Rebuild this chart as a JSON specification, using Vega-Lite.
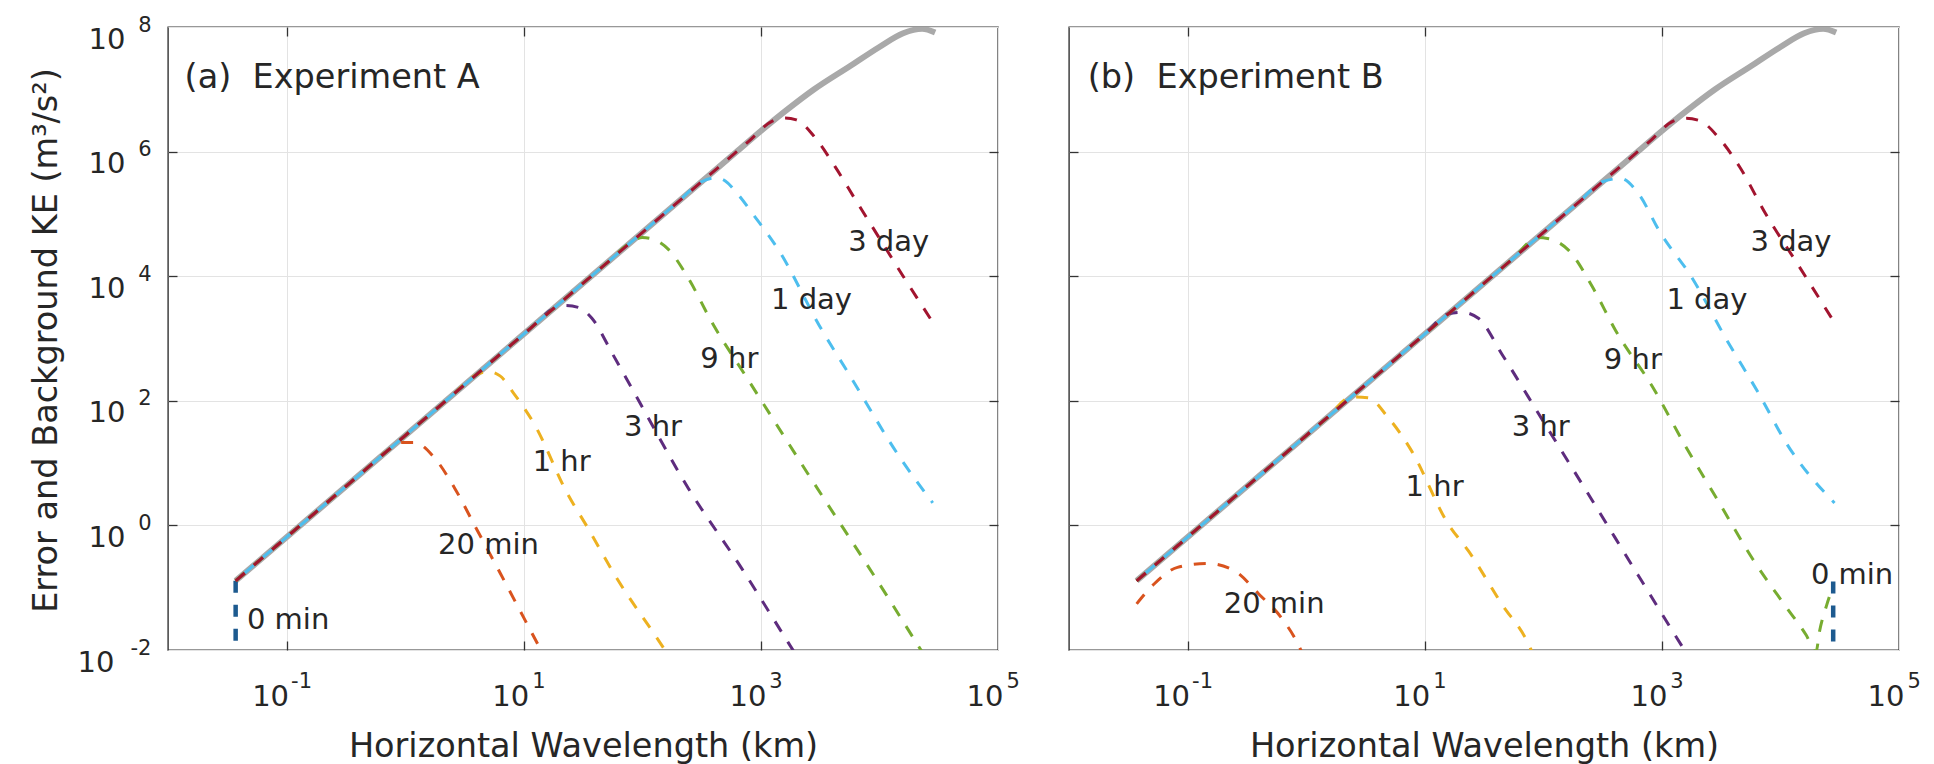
{
"$schema": "https://vega.github.io/schema/vega-lite/v6.json",
"background": "white",
"padding": {"left": 28, "top": 13, "right": 0, "bottom": 0},
"bounds": "flush",
"spacing": 71,
"config": {
  "view": {"stroke": "#333333", "strokeWidth": 1.4},
  "axis": {"labelFont": "DejaVu Sans", "titleFont": "DejaVu Sans", "labelColor": "#262626", "titleColor": "#262626", "titleFontWeight": "normal"},
  "text": {"font": "DejaVu Sans"}
},
"datasets": {
  "bg": [
    {"x": 0.0372, "y": 0.129}, {"x": 631, "y": 1012000}, {"x": 1000, "y": 2138000}, {"x": 1585, "y": 4365000}, {"x": 2818, "y": 10000000},
    {"x": 5623, "y": 23440000}, {"x": 10000, "y": 47860000}, {"x": 15850, "y": 79430000}, {"x": 22910, "y": 93330000}, {"x": 29510, "y": 81280000}
  ],
  "a": [
    {"s": "0 min", "x": 0.0372, "y": 0.129}, {"s": "0 min", "x": 0.0372, "y": 0.00794},
    {"s": "20 min", "x": 0.0372, "y": 0.129}, {"s": "20 min", "x": 0.4467, "y": 7.42}, {"s": "20 min", "x": 0.708, "y": 15.74}, {"s": "20 min", "x": 0.933, "y": 21.38}, {"s": "20 min", "x": 1.202, "y": 21.38}, {"s": "20 min", "x": 1.758, "y": 12.3}, {"s": "20 min", "x": 2.594, "y": 4.074}, {"s": "20 min", "x": 3.981, "y": 0.891}, {"s": "20 min", "x": 6.31, "y": 0.1738}, {"s": "20 min", "x": 10, "y": 0.0331}, {"s": "20 min", "x": 14.13, "y": 0.00955},
    {"s": "1 hr", "x": 0.0372, "y": 0.129}, {"s": "1 hr", "x": 2.512, "y": 123.9}, {"s": "1 hr", "x": 3.981, "y": 262.4}, {"s": "1 hr", "x": 5.012, "y": 295.1}, {"s": "1 hr", "x": 6.31, "y": 251.2}, {"s": "1 hr", "x": 8.318, "y": 128.5}, {"s": "1 hr", "x": 12.27, "y": 42.36}, {"s": "1 hr", "x": 23.44, "y": 3.192}, {"s": "1 hr", "x": 34.51, "y": 0.929}, {"s": "1 hr", "x": 57.94, "y": 0.166}, {"s": "1 hr", "x": 154.9, "y": 0.01}, {"s": "1 hr", "x": 166, "y": 0.00813},
    {"s": "3 hr", "x": 0.0372, "y": 0.129}, {"s": "3 hr", "x": 11.22, "y": 1421}, {"s": "3 hr", "x": 17.78, "y": 3006}, {"s": "3 hr", "x": 22.39, "y": 3388}, {"s": "3 hr", "x": 28.84, "y": 3162}, {"s": "3 hr", "x": 37.58, "y": 2118}, {"s": "3 hr", "x": 56.23, "y": 562.3}, {"s": "3 hr", "x": 87.1, "y": 127.4}, {"s": "3 hr", "x": 244.9, "y": 3.917}, {"s": "3 hr", "x": 687.1, "y": 0.206}, {"s": "3 hr", "x": 1698, "y": 0.01324}, {"s": "3 hr", "x": 1995, "y": 0.00813},
    {"s": "9 hr", "x": 0.0372, "y": 0.129}, {"s": "9 hr", "x": 50.12, "y": 16290}, {"s": "9 hr", "x": 79.43, "y": 34510}, {"s": "9 hr", "x": 100, "y": 41690}, {"s": "9 hr", "x": 120.2, "y": 39810}, {"s": "9 hr", "x": 166, "y": 26920}, {"s": "9 hr", "x": 244.9, "y": 9226}, {"s": "9 hr", "x": 384.6, "y": 1849}, {"s": "9 hr", "x": 781.6, "y": 217.3}, {"s": "9 hr", "x": 2500, "y": 6.699}, {"s": "9 hr", "x": 11750, "y": 0.0708}, {"s": "9 hr", "x": 22390, "y": 0.01}, {"s": "9 hr", "x": 23990, "y": 0.00813},
    {"s": "1 day", "x": 0.0372, "y": 0.129}, {"s": "1 day", "x": 199.5, "y": 154900}, {"s": "1 day", "x": 316.2, "y": 328100}, {"s": "1 day", "x": 416.9, "y": 380200}, {"s": "1 day", "x": 501.2, "y": 338800}, {"s": "1 day", "x": 631, "y": 213800}, {"s": "1 day", "x": 891.3, "y": 89740}, {"s": "1 day", "x": 1400, "y": 26920}, {"s": "1 day", "x": 3236, "y": 1416}, {"s": "1 day", "x": 5433, "y": 283.8}, {"s": "1 day", "x": 15280, "y": 11.43}, {"s": "1 day", "x": 28180, "y": 2.291},
    {"s": "3 day", "x": 0.0372, "y": 0.129}, {"s": "3 day", "x": 794.3, "y": 1472000}, {"s": "3 day", "x": 1259, "y": 3119000}, {"s": "3 day", "x": 1585, "y": 3467000}, {"s": "3 day", "x": 1995, "y": 3236000}, {"s": "3 day", "x": 2844, "y": 1710000}, {"s": "3 day", "x": 4198, "y": 584800}, {"s": "3 day", "x": 6310, "y": 166000}, {"s": "3 day", "x": 10000, "y": 40740}, {"s": "3 day", "x": 15850, "y": 10000}, {"s": "3 day", "x": 28180, "y": 1820}
  ],
  "b": [
    {"s": "0 min", "x": 27860, "y": 0.1259}, {"s": "0 min", "x": 27860, "y": 0.00794},
    {"s": "20 min", "x": 0.0372, "y": 0.055}, {"s": "20 min", "x": 0.0522, "y": 0.1148}, {"s": "20 min", "x": 0.0822, "y": 0.2118}, {"s": "20 min", "x": 0.1476, "y": 0.2455}, {"s": "20 min", "x": 0.2483, "y": 0.1875}, {"s": "20 min", "x": 0.3981, "y": 0.0794}, {"s": "20 min", "x": 0.6152, "y": 0.03334}, {"s": "20 min", "x": 0.8511, "y": 0.01259}, {"s": "20 min", "x": 0.912, "y": 0.00955},
    {"s": "1 hr", "x": 0.0372, "y": 0.129}, {"s": "1 hr", "x": 1.514, "y": 54.2}, {"s": "1 hr", "x": 2.399, "y": 114.8}, {"s": "1 hr", "x": 3.311, "y": 112.2}, {"s": "1 hr", "x": 4.909, "y": 54.08}, {"s": "1 hr", "x": 7.727, "y": 15.85}, {"s": "1 hr", "x": 15.78, "y": 1.052}, {"s": "1 hr", "x": 23.28, "y": 0.3926}, {"s": "1 hr", "x": 44.57, "y": 0.05495}, {"s": "1 hr", "x": 74.82, "y": 0.01259}, {"s": "1 hr", "x": 81.28, "y": 0.00891},
    {"s": "3 hr", "x": 0.0372, "y": 0.129}, {"s": "3 hr", "x": 10, "y": 1178}, {"s": "3 hr", "x": 15.85, "y": 2495}, {"s": "3 hr", "x": 20.8, "y": 2630}, {"s": "3 hr", "x": 28.58, "y": 2089}, {"s": "3 hr", "x": 45.08, "y": 549.5}, {"s": "3 hr", "x": 100, "y": 46.77}, {"s": "3 hr", "x": 251.2, "y": 2.754}, {"s": "3 hr", "x": 631, "y": 0.1585}, {"s": "3 hr", "x": 1549, "y": 0.01}, {"s": "3 hr", "x": 1660, "y": 0.00813},
    {"s": "9 hr", "x": 0.0372, "y": 0.129}, {"s": "9 hr", "x": 56.23, "y": 19660}, {"s": "9 hr", "x": 89.13, "y": 41690}, {"s": "9 hr", "x": 111.7, "y": 39810}, {"s": "9 hr", "x": 164.8, "y": 25700}, {"s": "9 hr", "x": 259.4, "y": 6761}, {"s": "9 hr", "x": 408.3, "y": 1334}, {"s": "9 hr", "x": 833.7, "y": 167.9}, {"s": "9 hr", "x": 1596, "y": 18.2}, {"s": "9 hr", "x": 3055, "y": 2.291}, {"s": "9 hr", "x": 5834, "y": 0.2884}, {"s": "9 hr", "x": 11170, "y": 0.04898}, {"s": "9 hr", "x": 16480, "y": 0.01738}, {"s": "9 hr", "x": 19950, "y": 0.00933}, {"s": "9 hr", "x": 21380, "y": 0.01995}, {"s": "9 hr", "x": 24550, "y": 0.05248}, {"s": "9 hr", "x": 27540, "y": 0.1},
    {"s": "1 day", "x": 0.0372, "y": 0.129}, {"s": "1 day", "x": 199.5, "y": 154900}, {"s": "1 day", "x": 316.2, "y": 328100}, {"s": "1 day", "x": 450.8, "y": 370700}, {"s": "1 day", "x": 642.7, "y": 204200}, {"s": "1 day", "x": 948.4, "y": 53700}, {"s": "1 day", "x": 1816, "y": 9120}, {"s": "1 day", "x": 3467, "y": 1000}, {"s": "1 day", "x": 6637, "y": 125.9}, {"s": "1 day", "x": 11170, "y": 21.13}, {"s": "1 day", "x": 28580, "y": 2.291},
    {"s": "3 day", "x": 0.0372, "y": 0.129}, {"s": "3 day", "x": 794.3, "y": 1472000}, {"s": "3 day", "x": 1259, "y": 3119000}, {"s": "3 day", "x": 1596, "y": 3420000}, {"s": "3 day", "x": 2065, "y": 3162000}, {"s": "3 day", "x": 3055, "y": 1622000}, {"s": "3 day", "x": 4508, "y": 575400}, {"s": "3 day", "x": 7568, "y": 97720}, {"s": "3 day", "x": 14450, "y": 14130}, {"s": "3 day", "x": 28580, "y": 1795}
  ],
  "la": [
    {"t": "3 day", "x": 11970, "y": 25470}, {"t": "1 day", "x": 2673, "y": 2951}, {"t": "9 hr", "x": 542, "y": 338.8},
    {"t": "3 hr", "x": 123, "y": 27.54}, {"t": "1 hr", "x": 20.89, "y": 7.586}, {"t": "20 min", "x": 5.047, "y": 0.3467}, {"t": "0 min", "x": 0.103, "y": 0.02198}
  ],
  "lb": [
    {"t": "3 day", "x": 12270, "y": 25470}, {"t": "1 day", "x": 2399, "y": 2951}, {"t": "9 hr", "x": 568.9, "y": 323.6},
    {"t": "3 hr", "x": 95.28, "y": 27.54}, {"t": "1 hr", "x": 12.11, "y": 3.0}, {"t": "20 min", "x": 0.537, "y": 0.0398}, {"t": "0 min", "x": 40180, "y": 0.1148}
  ],
  "ta": [{"t": "(a)\u00a0\u00a0Experiment A", "x": 0.0138, "y": 10600000}],
  "tb": [{"t": "(b)\u00a0\u00a0Experiment B", "x": 0.0144, "y": 10600000}]
},
"hconcat": [
{
  "width": 830, "height": 623,
  "resolve": {"axis": {"x": "independent", "y": "independent"}},
  "layer": [
    {"data": {"name": "bg"},
     "mark": {"type": "line", "color": "#a9a9a9", "strokeWidth": 6, "clip": true, "interpolate": "monotone"},
     "encoding": {
       "x": {"field": "x", "type": "quantitative", "scale": {"type": "log", "domain": [0.01, 100000], "nice": false},
             "axis": {"orient": "bottom", "values": [0.1, 10, 1000, 100000], "labelExpr": "'10'", "ticks": false, "domain": false, "grid": true, "gridColor": "#e3e3e3", "gridWidth": 1,
                      "labelFontSize": 29, "labelAlign": "right", "labelBaseline": "middle", "labelPadding": 46,
                      "labelOffset": {"condition": {"test": "datum.value < 1", "value": 2}, "value": 5},
                      "labelFlush": false, "labelOverlap": false, "labelBound": false,
                      "title": "Horizontal Wavelength (km)", "titleFontSize": 33.5, "titleBaseline": "alphabetic", "titleY": 106}},
       "y": {"field": "y", "type": "quantitative", "scale": {"type": "log", "domain": [0.01, 100000000], "nice": false},
             "axis": {"orient": "left", "values": [0.01, 1, 100, 10000, 1000000, 100000000], "labelExpr": "'10'", "ticks": false, "domain": false, "grid": true, "gridColor": "#e3e3e3", "gridWidth": 1,
                      "labelFontSize": 29, "labelAlign": "right", "labelBaseline": "middle",
                      "labelPadding": {"condition": {"test": "datum.value < 0.1", "value": 54}, "value": 43},
                      "labelOffset": 12, "labelFlush": false, "labelOverlap": false, "labelBound": false,
                      "title": "Error and Background KE (m³/s²)", "titleFontSize": 33.5, "titleBaseline": "middle", "titleX": -122, "titleY": 313}}
     }},
    {"data": {"name": "a"},
     "transform": [{"filter": "datum.s !== '1 day' && datum.s !== '3 day'"}],
     "mark": {"type": "line", "strokeDash": [12, 12], "clip": true, "interpolate": "monotone"},
     "encoding": {
       "x": {"field": "x", "type": "quantitative", "scale": {"type": "log", "domain": [0.01, 100000], "nice": false},
             "axis": {"orient": "bottom", "values": [0.1, 10, 1000, 100000], "labelExpr": "'' + round(log(datum.value)/LN10)", "ticks": false, "domain": false, "grid": false,
                      "labelFontSize": 21, "labelAlign": "left", "labelBaseline": "middle", "labelPadding": 31,
                      "labelOffset": {"condition": {"test": "datum.value < 1", "value": 4}, "value": 8},
                      "labelFlush": false, "labelOverlap": false, "labelBound": false, "title": null}},
       "y": {"field": "y", "type": "quantitative", "scale": {"type": "log", "domain": [0.01, 100000000], "nice": false},
             "axis": {"orient": "left", "values": [0.01, 1, 100, 10000, 1000000, 100000000], "labelExpr": "'' + round(log(datum.value)/LN10)", "ticks": false, "domain": false, "grid": false,
                      "labelFontSize": 21, "labelAlign": "right", "labelBaseline": "middle", "labelPadding": 17, "labelOffset": -2,
                      "labelFlush": false, "labelOverlap": false, "labelBound": false, "title": null}},
       "color": {"field": "s", "type": "nominal", "legend": null,
                 "scale": {"domain": ["0 min", "20 min", "1 hr", "3 hr", "9 hr"], "range": ["#1d5a8f", "#d9531e", "#edb120", "#5e2c7e", "#77ac30"]}},
       "strokeWidth": {"condition": {"test": "datum.s === '0 min'", "value": 4.5}, "value": 3}
     }},
    {"data": {"name": "a"},
     "transform": [{"filter": "datum.s === '1 day'"}],
     "mark": {"type": "line", "color": "#4dbeee", "strokeWidth": 3, "strokeDash": [12, 12], "strokeDashOffset": 12, "clip": true, "interpolate": "monotone"},
     "encoding": {
       "x": {"field": "x", "type": "quantitative", "scale": {"type": "log", "domain": [0.01, 100000], "nice": false}, "axis": null},
       "y": {"field": "y", "type": "quantitative", "scale": {"type": "log", "domain": [0.01, 100000000], "nice": false}, "axis": null}
     }},
    {"data": {"name": "a"},
     "transform": [{"filter": "datum.s === '3 day'"}],
     "mark": {"type": "line", "color": "#a2142f", "strokeWidth": 3, "strokeDash": [12, 12], "clip": true, "interpolate": "monotone"},
     "encoding": {
       "x": {"field": "x", "type": "quantitative", "scale": {"type": "log", "domain": [0.01, 100000], "nice": false}, "axis": null},
       "y": {"field": "y", "type": "quantitative", "scale": {"type": "log", "domain": [0.01, 100000000], "nice": false}, "axis": null}
     }},
    {"data": {"name": "la"},
     "mark": {"type": "text", "fontSize": 29, "font": "DejaVu Sans", "color": "#262626", "align": "center", "baseline": "alphabetic"},
     "encoding": {
       "x": {"field": "x", "type": "quantitative", "scale": {"type": "log", "domain": [0.01, 100000], "nice": false},
             "axis": {"orient": "bottom", "values": [0.1, 10, 1000], "labels": false, "ticks": true, "tickSize": -9, "tickColor": "#333333", "tickWidth": 1.3, "domain": false, "grid": false, "title": null}},
       "y": {"field": "y", "type": "quantitative", "scale": {"type": "log", "domain": [0.01, 100000000], "nice": false},
             "axis": {"orient": "left", "values": [1, 100, 10000, 1000000], "labels": false, "ticks": true, "tickSize": -9, "tickColor": "#333333", "tickWidth": 1.3, "domain": false, "grid": false, "title": null}},
       "text": {"field": "t"}
     }},
    {"data": {"name": "ta"},
     "mark": {"type": "text", "fontSize": 33.5, "font": "DejaVu Sans", "color": "#262626", "align": "left", "baseline": "alphabetic"},
     "encoding": {
       "x": {"field": "x", "type": "quantitative", "scale": {"type": "log", "domain": [0.01, 100000], "nice": false},
             "axis": {"orient": "top", "values": [0.1, 10, 1000], "labels": false, "ticks": true, "tickSize": -9, "tickColor": "#333333", "tickWidth": 1.3, "domain": false, "grid": false, "title": null}},
       "y": {"field": "y", "type": "quantitative", "scale": {"type": "log", "domain": [0.01, 100000000], "nice": false},
             "axis": {"orient": "right", "values": [1, 100, 10000, 1000000], "labels": false, "ticks": true, "tickSize": -9, "tickColor": "#333333", "tickWidth": 1.3, "domain": false, "grid": false, "title": null}},
       "text": {"field": "t"}
     }}
  ]
},
{
  "width": 830, "height": 623,
  "resolve": {"axis": {"x": "independent", "y": "independent"}},
  "layer": [
    {"data": {"name": "bg"},
     "mark": {"type": "line", "color": "#a9a9a9", "strokeWidth": 6, "clip": true, "interpolate": "monotone"},
     "encoding": {
       "x": {"field": "x", "type": "quantitative", "scale": {"type": "log", "domain": [0.01, 100000], "nice": false},
             "axis": {"orient": "bottom", "values": [0.1, 10, 1000, 100000], "labelExpr": "'10'", "ticks": false, "domain": false, "grid": true, "gridColor": "#e3e3e3", "gridWidth": 1,
                      "labelFontSize": 29, "labelAlign": "right", "labelBaseline": "middle", "labelPadding": 46,
                      "labelOffset": {"condition": {"test": "datum.value < 1", "value": 2}, "value": 5},
                      "labelFlush": false, "labelOverlap": false, "labelBound": false,
                      "title": "Horizontal Wavelength (km)", "titleFontSize": 33.5, "titleBaseline": "alphabetic", "titleY": 106}},
       "y": {"field": "y", "type": "quantitative", "scale": {"type": "log", "domain": [0.01, 100000000], "nice": false},
             "axis": {"orient": "left", "values": [0.01, 1, 100, 10000, 1000000, 100000000], "labels": false, "ticks": false, "domain": false, "grid": true, "gridColor": "#e3e3e3", "gridWidth": 1, "title": null}}
     }},
    {"data": {"name": "b"},
     "transform": [{"filter": "datum.s !== '1 day' && datum.s !== '3 day'"}],
     "mark": {"type": "line", "strokeDash": [12, 12], "clip": true, "interpolate": "monotone"},
     "encoding": {
       "x": {"field": "x", "type": "quantitative", "scale": {"type": "log", "domain": [0.01, 100000], "nice": false},
             "axis": {"orient": "bottom", "values": [0.1, 10, 1000, 100000], "labelExpr": "'' + round(log(datum.value)/LN10)", "ticks": false, "domain": false, "grid": false,
                      "labelFontSize": 21, "labelAlign": "left", "labelBaseline": "middle", "labelPadding": 31,
                      "labelOffset": {"condition": {"test": "datum.value < 1", "value": 4}, "value": 8},
                      "labelFlush": false, "labelOverlap": false, "labelBound": false, "title": null}},
       "y": {"field": "y", "type": "quantitative", "scale": {"type": "log", "domain": [0.01, 100000000], "nice": false}, "axis": null},
       "color": {"field": "s", "type": "nominal", "legend": null,
                 "scale": {"domain": ["0 min", "20 min", "1 hr", "3 hr", "9 hr"], "range": ["#1d5a8f", "#d9531e", "#edb120", "#5e2c7e", "#77ac30"]}},
       "strokeWidth": {"condition": {"test": "datum.s === '0 min'", "value": 4.5}, "value": 3}
     }},
    {"data": {"name": "b"},
     "transform": [{"filter": "datum.s === '1 day'"}],
     "mark": {"type": "line", "color": "#4dbeee", "strokeWidth": 3, "strokeDash": [12, 12], "strokeDashOffset": 12, "clip": true, "interpolate": "monotone"},
     "encoding": {
       "x": {"field": "x", "type": "quantitative", "scale": {"type": "log", "domain": [0.01, 100000], "nice": false}, "axis": null},
       "y": {"field": "y", "type": "quantitative", "scale": {"type": "log", "domain": [0.01, 100000000], "nice": false}, "axis": null}
     }},
    {"data": {"name": "b"},
     "transform": [{"filter": "datum.s === '3 day'"}],
     "mark": {"type": "line", "color": "#a2142f", "strokeWidth": 3, "strokeDash": [12, 12], "clip": true, "interpolate": "monotone"},
     "encoding": {
       "x": {"field": "x", "type": "quantitative", "scale": {"type": "log", "domain": [0.01, 100000], "nice": false}, "axis": null},
       "y": {"field": "y", "type": "quantitative", "scale": {"type": "log", "domain": [0.01, 100000000], "nice": false}, "axis": null}
     }},
    {"data": {"name": "lb"},
     "mark": {"type": "text", "fontSize": 29, "font": "DejaVu Sans", "color": "#262626", "align": "center", "baseline": "alphabetic"},
     "encoding": {
       "x": {"field": "x", "type": "quantitative", "scale": {"type": "log", "domain": [0.01, 100000], "nice": false},
             "axis": {"orient": "bottom", "values": [0.1, 10, 1000], "labels": false, "ticks": true, "tickSize": -9, "tickColor": "#333333", "tickWidth": 1.3, "domain": false, "grid": false, "title": null}},
       "y": {"field": "y", "type": "quantitative", "scale": {"type": "log", "domain": [0.01, 100000000], "nice": false},
             "axis": {"orient": "left", "values": [1, 100, 10000, 1000000], "labels": false, "ticks": true, "tickSize": -9, "tickColor": "#333333", "tickWidth": 1.3, "domain": false, "grid": false, "title": null}},
       "text": {"field": "t"}
     }},
    {"data": {"name": "tb"},
     "mark": {"type": "text", "fontSize": 33.5, "font": "DejaVu Sans", "color": "#262626", "align": "left", "baseline": "alphabetic"},
     "encoding": {
       "x": {"field": "x", "type": "quantitative", "scale": {"type": "log", "domain": [0.01, 100000], "nice": false},
             "axis": {"orient": "top", "values": [0.1, 10, 1000], "labels": false, "ticks": true, "tickSize": -9, "tickColor": "#333333", "tickWidth": 1.3, "domain": false, "grid": false, "title": null}},
       "y": {"field": "y", "type": "quantitative", "scale": {"type": "log", "domain": [0.01, 100000000], "nice": false},
             "axis": {"orient": "right", "values": [1, 100, 10000, 1000000], "labels": false, "ticks": true, "tickSize": -9, "tickColor": "#333333", "tickWidth": 1.3, "domain": false, "grid": false, "title": null}},
       "text": {"field": "t"}
     }}
  ]
}
]
}
